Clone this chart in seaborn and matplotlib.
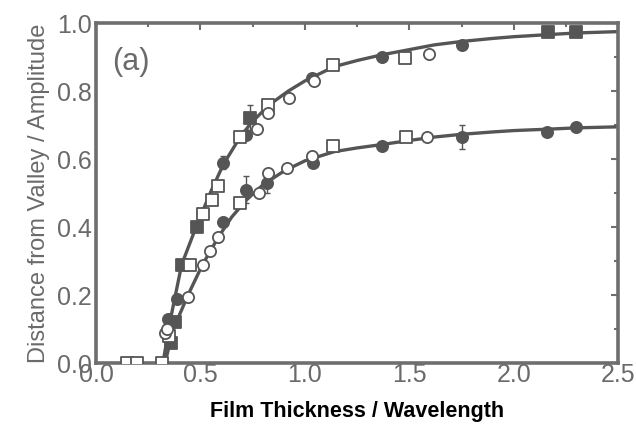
import numpy as np
import pandas as pd
import matplotlib
matplotlib.use("Agg")
import matplotlib.pyplot as plt
from matplotlib.ticker import MultipleLocator
import seaborn as sns

# Fitted curves (film thickness / wavelength -> normalised distance from valley)
upper_fit_x = [0.32, 0.36, 0.41, 0.485, 0.55, 0.61, 0.68, 0.74, 0.83, 0.92, 1.0, 1.14,
               1.25, 1.37, 1.5, 1.62, 1.75, 1.9, 2.0, 2.16, 2.3, 2.5]
upper_fit_y = [0.0, 0.14, 0.29, 0.41, 0.505, 0.585, 0.655, 0.705, 0.76, 0.80, 0.83, 0.872,
               0.89, 0.907, 0.922, 0.936, 0.946, 0.955, 0.96, 0.966, 0.971, 0.975]
lower_fit_x = [0.33, 0.37, 0.44, 0.51, 0.585, 0.65, 0.72, 0.8, 0.9, 1.0, 1.14,
               1.25, 1.37, 1.5, 1.62, 1.75, 1.9, 2.0, 2.16, 2.3, 2.5]
lower_fit_y = [0.0, 0.1, 0.2, 0.29, 0.37, 0.43, 0.48, 0.525, 0.565, 0.595, 0.622,
               0.633, 0.643, 0.655, 0.665, 0.673, 0.68, 0.684, 0.688, 0.692, 0.695]

# Measured points, grouped by marker type
up_fsq_x = [0.41, 0.485, 0.737, 2.165, 2.30]
up_fsq_y = [0.29, 0.40, 0.72, 0.975, 0.975]
up_fci_x = [0.345, 0.39, 0.61, 0.72, 1.035, 1.37, 1.75]
up_fci_y = [0.13, 0.19, 0.59, 0.67, 0.84, 0.90, 0.935]
up_osq_x = [0.15, 0.195, 0.315, 0.45, 0.513, 0.555, 0.585, 0.69, 0.825, 1.135, 1.48]
up_osq_y = [0.0, 0.0, 0.0, 0.29, 0.44, 0.48, 0.52, 0.665, 0.76, 0.876, 0.898]
up_oci_x = [0.33, 0.77, 0.825, 0.925, 1.045, 1.595]
up_oci_y = [0.09, 0.69, 0.735, 0.78, 0.83, 0.909]

lo_fsq_x = [0.36, 0.38]
lo_fsq_y = [0.06, 0.12]
lo_fci_x = [0.61, 0.72, 0.82, 1.04, 1.37, 1.75, 2.16, 2.30]
lo_fci_y = [0.415, 0.51, 0.53, 0.59, 0.638, 0.665, 0.68, 0.694]
lo_osq_x = [0.35, 0.69, 1.135, 1.485]
lo_osq_y = [0.08, 0.47, 0.64, 0.665]
lo_oci_x = [0.34, 0.44, 0.51, 0.545, 0.585, 0.78, 0.825, 0.915, 1.035, 1.585]
lo_oci_y = [0.10, 0.195, 0.29, 0.33, 0.37, 0.50, 0.56, 0.575, 0.61, 0.665]

# Error bars on selected points
err_x = [0.737, 0.61, 0.72, 0.82, 1.75]
err_y = [0.72, 0.59, 0.51, 0.53, 0.665]
err_e = [0.04, 0.02, 0.04, 0.03, 0.035]

x_ticks = [0.0, 0.5, 1.0, 1.5, 2.0, 2.5]
y_ticks = [0.0, 0.2, 0.4, 0.6, 0.8, 1.0]

sns.set_theme(style="white")
plt.rcParams["font.family"] = ["Liberation Sans", "DejaVu Sans"]

GREY = "#555555"
AXGREY = "#6e6e6e"
TXTGREY = "#6a6a6a"

fig = plt.figure(figsize=(6.36, 4.36), dpi=100)
ax = fig.add_axes([0.151, 0.167, 0.821, 0.780])

fits = pd.concat([
    pd.DataFrame({"x": upper_fit_x, "y": upper_fit_y, "curve": "upper"}),
    pd.DataFrame({"x": lower_fit_x, "y": lower_fit_y, "curve": "lower"}),
])
sns.lineplot(data=fits, x="x", y="y", units="curve", estimator=None, sort=True,
             color=GREY, lw=2.4, ax=ax, legend=False)

ax.errorbar(err_x, err_y, yerr=err_e, fmt="none", ecolor=GREY, elinewidth=1.0,
            capsize=2, capthick=1.0, zorder=3)

groups = [
    (up_fsq_x + lo_fsq_x, up_fsq_y + lo_fsq_y, "s", True),
    (up_fci_x + lo_fci_x, up_fci_y + lo_fci_y, "o", True),
    (up_osq_x + lo_osq_x, up_osq_y + lo_osq_y, "s", False),
    (up_oci_x + lo_oci_x, up_oci_y + lo_oci_y, "o", False),
]
for gx, gy, mk, filled in groups:
    sns.scatterplot(x=gx, y=gy, marker=mk, s=65,
                    facecolor=GREY if filled else "white",
                    edgecolor=GREY, linewidth=1.3, zorder=4, ax=ax)

ax.set_xlim(0.0, 2.5)
ax.set_ylim(0.0, 1.0)
ax.set_xticks(x_ticks)
ax.set_yticks(y_ticks)
ax.set_xticklabels([f"{t:.1f}" for t in x_ticks])
ax.set_yticklabels([f"{t:.1f}" for t in y_ticks])
ax.xaxis.set_minor_locator(MultipleLocator(0.25))
ax.yaxis.set_minor_locator(MultipleLocator(0.1))
ax.tick_params(which="both", direction="in", top=True, right=True,
               color=AXGREY, width=1.5, labelcolor=TXTGREY, labelsize=18)
ax.tick_params(axis="x", which="major", pad=0)
ax.tick_params(axis="y", which="major", pad=3)
ax.tick_params(which="major", length=5)
ax.tick_params(which="minor", length=3)
for sp in ax.spines.values():
    sp.set_color(AXGREY)
    sp.set_linewidth(2.6)

ax.set_xlabel("Film Thickness / Wavelength", fontsize=15.5, fontweight="bold",
              color="black", labelpad=10)
ax.set_ylabel("Distance from Valley / Amplitude", fontsize=17, color=TXTGREY,
              labelpad=5)
ax.text(0.03, 0.93, "(a)", transform=ax.transAxes, fontsize=22, color=TXTGREY,
        va="top", ha="left")

fig.savefig("out.png", dpi=100)
